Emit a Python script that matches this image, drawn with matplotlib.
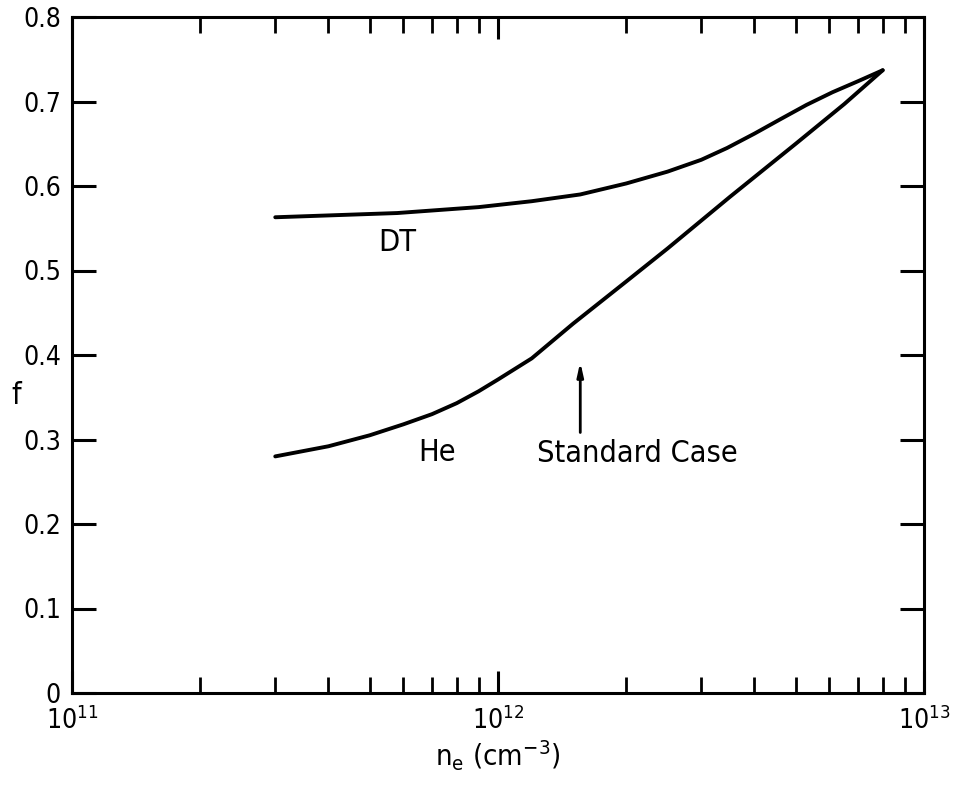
import numpy as np
import matplotlib
matplotlib.use("Agg")
import matplotlib.pyplot as plt
from matplotlib.ticker import LogLocator, LogFormatterMathtext, FixedLocator, FuncFormatter

plt.rcParams['font.family'] = ['DejaVu Sans']
plt.rcParams['font.stretch'] = 'condensed'
plt.rcParams['mathtext.fontset'] = 'dejavusans'

# curve data
dt_ne = [3e11, 5.8e11, 9e11, 1.2e12, 1.56e12, 2e12, 2.5e12, 3e12, 3.45e12,
         4e12, 4.6e12, 5.3e12, 6.1e12, 7e12, 8e12]
dt_f = [0.563, 0.568, 0.575, 0.582, 0.590, 0.603, 0.617, 0.631, 0.645,
        0.662, 0.679, 0.696, 0.711, 0.724, 0.737]

he_ne = [3e11, 4e11, 5e11, 6e11, 7e11, 8e11, 9e11, 1e12, 1.2e12, 1.5e12,
         2e12, 2.5e12, 3.5e12, 5e12, 6.5e12, 8e12]
he_f = [0.280, 0.292, 0.305, 0.318, 0.330, 0.343, 0.357, 0.371, 0.396, 0.437,
        0.487, 0.526, 0.587, 0.650, 0.697, 0.737]

y_ticks = [0, 0.1, 0.2, 0.3, 0.4, 0.5, 0.6, 0.7, 0.8]
standard_ne = 1.56e12

fig = plt.figure(figsize=(9.59, 7.86), dpi=100)
ax = fig.add_axes([72/959, 1-693/786, 852/959, 676/786])

ax.plot(dt_ne, dt_f, color='black', lw=2.8, solid_capstyle='round', solid_joinstyle='round')
ax.plot(he_ne, he_f, color='black', lw=2.8, solid_capstyle='round', solid_joinstyle='round')

ax.set_xscale('log')
ax.set_xlim(1e11, 1e13)
ax.set_ylim(0, 0.8)

ax.xaxis.set_major_locator(LogLocator(base=10, numticks=5))
ax.xaxis.set_major_formatter(LogFormatterMathtext())
ax.xaxis.set_minor_locator(LogLocator(base=10, subs=np.arange(2, 10), numticks=20))
ax.yaxis.set_major_locator(FixedLocator(y_ticks))
ax.yaxis.set_major_formatter(FuncFormatter(lambda v, p: '0' if v == 0 else f'{v:.1f}'))

ax.tick_params(axis='both', which='major', direction='in', top=True, right=True,
               length=17, width=2.2, labelsize=19, colors='black')
ax.tick_params(axis='x', which='major', length=16, pad=10)
ax.tick_params(axis='x', which='minor', direction='in', top=True, length=11.5, width=2.0)
ax.tick_params(axis='y', which='major', pad=8)

for s in ax.spines.values():
    s.set_linewidth(2.2)

ax.text(5.8e11, 0.533, 'DT', fontsize=22, ha='center', va='center')
ax.text(7.2e11, 0.285, 'He', fontsize=22, ha='center', va='center')
ax.text(2.12e12, 0.284, 'Standard Case', fontsize=22, ha='center', va='center')
ax.annotate('', xy=(standard_ne, 0.395), xytext=(standard_ne, 0.305),
            arrowprops=dict(arrowstyle='-|>,head_length=0.8,head_width=0.18',
                            color='black', lw=2.0))

ax.set_xlabel(r'n$_{\mathrm{e}}$ (cm$^{-3}$)', fontsize=21, labelpad=2)
ax.set_ylabel('f', fontsize=22, rotation=0, va='center', ha='center')
ax.yaxis.set_label_coords(-0.065, 0.44)

fig.savefig('out.png', dpi=100)
